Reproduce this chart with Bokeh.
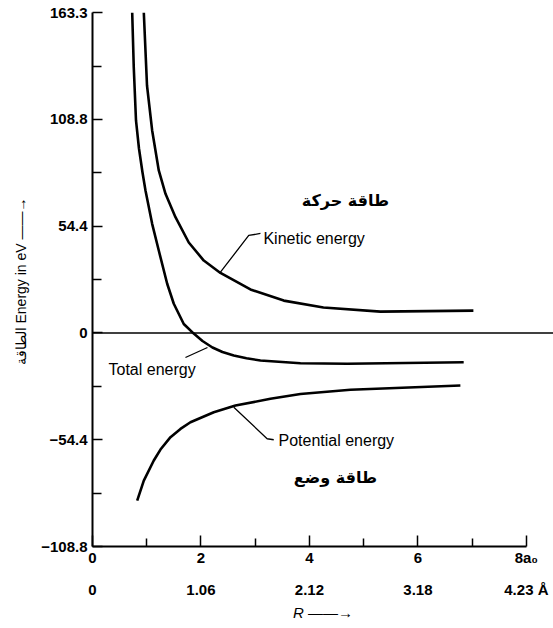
from bokeh.plotting import figure
from bokeh.models import Range1d, LinearAxis, FixedTicker, Span
from bokeh.core.properties import value
from bokeh.embed import file_html
from bokeh.resources import INLINE

# ---- data (R in units of a0, energy in eV) ----
kinetic_R = [0.946, 1.005, 1.100, 1.222, 1.346, 1.530, 1.775, 2.052, 2.359, 2.912, 3.526, 4.258, 5.309, 7.023]
kinetic_E = [163.3, 126.1, 103.2, 82.8, 70.9, 59.0, 46.1, 36.9, 30.6, 22.2, 16.5, 13.0, 10.9, 11.4]

total_R = [0.732, 0.761, 0.802, 0.857, 0.922, 0.977, 1.100, 1.222, 1.377, 1.499, 1.683, 1.867,
           2.028, 2.212, 2.396, 2.605, 2.839, 3.097, 3.834, 4.695, 6.844]
total_E = [163.3, 135.3, 108.3, 94.0, 81.8, 72.6, 55.6, 42.0, 25.1, 14.9, 4.6, -0.3,
           -4.1, -7.4, -9.7, -11.5, -12.9, -14.0, -15.4, -15.7, -14.9]

potential_R = [0.824, 0.946, 1.130, 1.253, 1.438, 1.622, 1.806, 2.236, 2.636, 3.281, 3.834, 4.756, 6.783]
potential_E = [-85.4, -75.2, -65.0, -59.4, -53.1, -48.9, -45.5, -40.4, -37.0, -33.5, -31.1, -28.9, -26.8]

y_ticks = [-108.8, -54.4, 0, 54.4, 108.8, 163.3]
y_tick_labels = ["\u2212108.8", "\u221254.4", "0", "54.4", "108.8", "163.3"]
y_minor = [-81.6, -27.2, 27.2, 81.6, 136.0]

x_ticks = [0, 2, 4, 6, 8]
x_tick_labels = ["0", "2", "4", "6", "8a\u2080"]
x_minor = [1, 3, 5, 7]
angstrom_labels = ["0", "1.06", "2.12", "3.18", "4.23 \u00c5"]

FONT = "Liberation Sans"
AR_FONT = "DejaVu Sans"

p = figure(width=553, height=628, x_range=Range1d(0, 8.5), y_range=Range1d(-108.8, 163.3),
           output_backend="svg", toolbar_location=None, x_axis_type=None, y_axis_type=None,
           min_border_left=92, min_border_right=0, min_border_top=12, min_border_bottom=82)
p.outline_line_color = None
p.grid.visible = False
p.background_fill_color = "white"

# left axis
ya = LinearAxis(ticker=FixedTicker(ticks=y_ticks, minor_ticks=y_minor))
ya.major_label_overrides = {t: l for t, l in zip(y_ticks, y_tick_labels)}
ya.major_tick_in = 10
ya.major_tick_out = 0
ya.minor_tick_in = 9
ya.minor_tick_out = 0
ya.axis_line_width = 2
ya.major_tick_line_width = 1.5
ya.minor_tick_line_width = 1.5
ya.major_label_text_font = FONT
ya.major_label_text_font_size = "15px"
ya.major_label_text_font_style = "bold"
ya.major_label_text_color = "black"
ya.major_label_standoff = 5
ya.axis_label = "\u0627\u0644\u0637\u0627\u0642\u0629  Energy in eV \u2014\u2014\u2192"
ya.axis_label_text_font = FONT
ya.axis_label_text_font_size = "14px"
ya.axis_label_text_font_style = "normal"
ya.axis_label_text_color = "black"
ya.axis_label_standoff = 9
p.add_layout(ya, "left")

# bottom axis (a0)
xa = LinearAxis(ticker=FixedTicker(ticks=x_ticks, minor_ticks=x_minor), bounds=(0, 8))
xa.major_label_overrides = {t: l for t, l in zip(x_ticks, x_tick_labels)}
xa.major_tick_in = 11
xa.major_tick_out = 0
xa.minor_tick_in = 8
xa.minor_tick_out = 0
xa.axis_line_width = 2
xa.major_tick_line_width = 1.5
xa.minor_tick_line_width = 1.5
xa.major_label_text_font = FONT
xa.major_label_text_font_size = "15px"
xa.major_label_text_font_style = "bold"
xa.major_label_text_color = "black"
xa.major_label_standoff = 2
p.add_layout(xa, "below")

# second row (Angstrom)
xb = LinearAxis(ticker=FixedTicker(ticks=x_ticks, minor_ticks=[]))
xb.major_label_overrides = {t: l for t, l in zip(x_ticks, angstrom_labels)}
xb.axis_line_color = None
xb.major_tick_line_color = None
xb.minor_tick_line_color = None
xb.major_label_text_font = FONT
xb.major_label_text_font_size = "15px"
xb.major_label_text_font_style = "bold"
xb.major_label_text_color = "black"
xb.major_label_standoff = 6
xb.axis_label = "R \u2014\u2014\u2192"
xb.axis_label_text_font = FONT
xb.axis_label_text_font_size = "15px"
xb.axis_label_text_font_style = "italic"
xb.axis_label_text_color = "black"
xb.axis_label_standoff = 3
p.add_layout(xb, "below")

# zero line
p.add_layout(Span(location=0, dimension="width", line_color="black", line_width=1.5))

# curves
p.line(kinetic_R, kinetic_E, line_color="black", line_width=2.6, line_join="round")
p.line(total_R, total_E, line_color="black", line_width=2.6, line_join="round")
p.line(potential_R, potential_E, line_color="black", line_width=2.6, line_join="round")

# leader lines
p.line([2.359, 2.881, 3.097], [31.0, 49.7, 50.7], line_color="black", line_width=1.3)
p.line([1.714, 2.120], [-12.5, -7.4], line_color="black", line_width=1.3)
p.line([2.605, 3.220, 3.342], [-37.8, -53.9, -54.4], line_color="black", line_width=1.3)

# labels
p.text(x=[3.152], y=[48.1], text=["Kinetic energy"], text_font=value(FONT), text_font_size="16px",
       text_baseline="middle", text_align="left", text_color="black")
p.text(x=[0.295], y=[-18.6], text=["Total energy"], text_font=value(FONT), text_font_size="16px",
       text_baseline="middle", text_align="left", text_color="black")
p.text(x=[3.429], y=[-54.8], text=["Potential energy"], text_font=value(FONT), text_font_size="16px",
       text_baseline="middle", text_align="left", text_color="black")
p.text(x=[4.664], y=[67.5], text=["\u0637\u0627\u0642\u0629 \u062d\u0631\u0643\u0629"], text_font=value(AR_FONT),
       text_font_size="16px", text_font_style="bold", text_baseline="middle", text_align="center", text_color="black")
p.text(x=[4.479], y=[-73.6], text=["\u0637\u0627\u0642\u0629 \u0648\u0636\u0639"], text_font=value(AR_FONT),
       text_font_size="16px", text_font_style="bold", text_baseline="middle", text_align="center", text_color="black")

open("out.html", "w").write(file_html(p, INLINE))
